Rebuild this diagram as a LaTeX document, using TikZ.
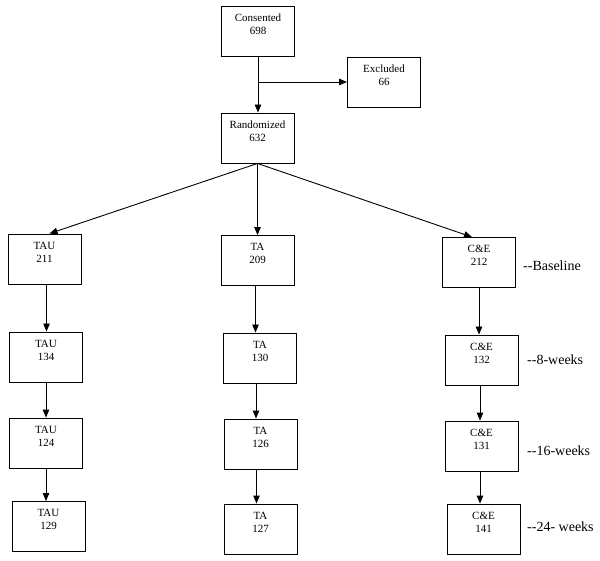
\documentclass[tikz,border=0pt]{standalone}
\usepackage{fontspec}
\setmainfont{Liberation Serif}
\usetikzlibrary{arrows.meta}
\newcommand{\bxt}[2]{\parbox[t][40pt][t]{66pt}{\centering\vspace*{3pt}#1\\#2}}
\tikzset{
  fbox/.style={draw, line width=0.9pt, minimum width=73pt, minimum height=50pt, inner sep=0pt, font=\fontsize{11}{13}\selectfont},
  arr/.style={line width=0.9pt, -{Triangle[length=8pt,width=6.5pt]}},
  tlabel/.style={anchor=west, inner sep=0pt, font=\fontsize{14}{16}\selectfont}
}
\begin{document}
\begin{tikzpicture}[x=1pt,y=-1pt]
\useasboundingbox (0,0) rectangle (600,561);
\node[fbox] (cons) at (258,31) {\bxt{Consented}{698}};
\node[fbox] (excl) at (384,82) {\bxt{Excluded}{66}};
\node[fbox] (rand) at (257.5,138) {\bxt{Randomized}{632}};
\node[fbox] (tau1) at (44.5,259) {\bxt{TAU}{211}};
\node[fbox] (tau2) at (46,357) {\bxt{TAU}{134}};
\node[fbox] (tau3) at (46,443) {\bxt{TAU}{124}};
\node[fbox] (tau4) at (48.5,526.5) {\bxt{TAU}{129}};
\node[fbox] (ta1) at (257.5,260.5) {\bxt{TA}{209}};
\node[fbox] (ta2) at (260,358) {\bxt{TA}{130}};
\node[fbox] (ta3) at (260.5,444) {\bxt{TA}{126}};
\node[fbox] (ta4) at (260.5,529) {\bxt{TA}{127}};
\node[fbox] (ce1) at (479,262.5) {\bxt{C\&E}{212}};
\node[fbox] (ce2) at (481.5,360) {\bxt{C\&E}{132}};
\node[fbox] (ce3) at (481.5,446) {\bxt{C\&E}{131}};
\node[fbox] (ce4) at (483.5,529) {\bxt{C\&E}{141}};
\node[tlabel] (l1) at (523,266) {-{}-Baseline};
\node[tlabel] (l2) at (527,360) {-{}-8-weeks};
\node[tlabel] (l3) at (527,451) {-{}-16-weeks};
\node[tlabel] (l4) at (527,527) {-{}-24- weeks};
\coordinate (br) at (cons.south |- excl.west);
\draw[arr] (cons.south) -- (cons.south |- rand.north);
\draw[arr] (br) -- (excl.west);
\draw[arr] (rand.south) -- ([xshift=5pt]tau1.north);
\draw[arr] (rand.south) -- (rand.south |- ta1.north);
\draw[arr] (rand.south) -- ([xshift=-7pt]ce1.north);
\draw[arr] ([xshift=2pt]tau1.south) -- ([xshift=2pt]tau1.south |- tau2.north);
\draw[arr] (tau2.south) -- (tau2.south |- tau3.north);
\draw[arr] (tau3.south) -- (tau3.south |- tau4.north);
\draw[arr] ([xshift=-2pt]ta1.south) -- ([xshift=-2pt]ta1.south |- ta2.north);
\draw[arr] ([xshift=-4pt]ta2.south) -- ([xshift=-4pt]ta2.south |- ta3.north);
\draw[arr] ([xshift=-4pt]ta3.south) -- ([xshift=-4pt]ta3.south |- ta4.north);
\draw[arr] (ce1.south) -- (ce1.south |- ce2.north);
\draw[arr] ([xshift=-1.5pt]ce2.south) -- ([xshift=-1.5pt]ce2.south |- ce3.north);
\draw[arr] ([xshift=-1.5pt]ce3.south) -- ([xshift=-1.5pt]ce3.south |- ce4.north);
\end{tikzpicture}
\end{document}
